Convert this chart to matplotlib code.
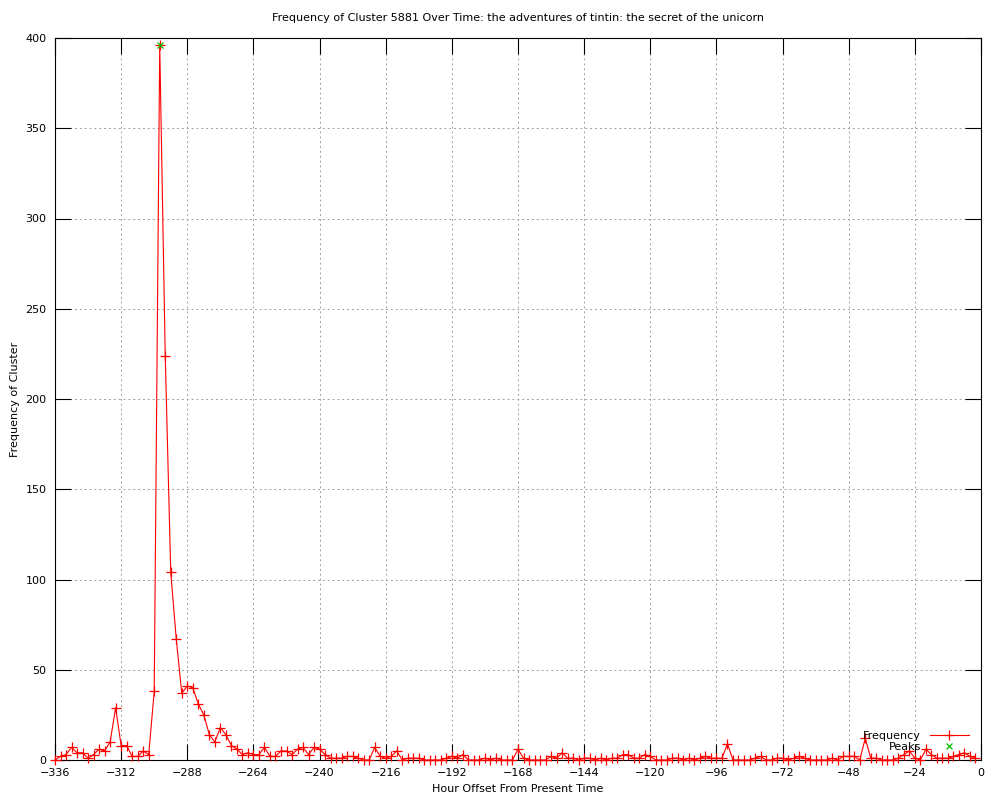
import numpy as np
import matplotlib
matplotlib.use("Agg")
import matplotlib.pyplot as plt

# ================= DATA =================
# one sample every 2 hours, from -336 up to -2
hours = np.arange(-336, 0, 2)

frequency = [
    0, 2, 3, 7, 4, 4, 1, 3, 6, 5, 10, 29,
    8, 8, 2, 2, 5, 3, 38, 396, 224, 104, 67, 37,
    41, 40, 31, 25, 14, 10, 18, 14, 8, 6, 3, 4,
    3, 3, 7, 2, 2, 5, 5, 3, 6, 7, 3, 7,
    6, 3, 1, 1, 1, 2, 2, 1, 0, 0, 7, 2,
    1, 2, 5, 0, 1, 1, 1, 0, 0, 0, 0, 1,
    2, 1, 3, 0, 0, 0, 1, 0, 1, 0, 0, 0,
    6, 1, 0, 0, 0, 0, 2, 1, 4, 1, 1, 0,
    1, 1, 0, 1, 0, 1, 1, 3, 3, 1, 1, 3,
    2, 0, 0, 0, 1, 1, 0, 1, 0, 1, 2, 1,
    1, 1, 9, 0, 0, 0, 0, 1, 2, 0, 0, 1,
    1, 0, 1, 2, 1, 0, 0, 0, 0, 1, 0, 2,
    2, 2, 0, 12, 1, 1, 0, 0, 0, 1, 3, 5,
    1, 0, 6, 3, 1, 1, 1, 2, 3, 4, 2, 1,
]

peak_hours = [-298]
peak_values = [396]

x_ticks = list(range(-336, 1, 24))
y_ticks = list(range(0, 401, 50))

title = "Frequency of Cluster 5881 Over Time: the adventures of tintin: the secret of the unicorn"


# ================= PLOT =================
plt.rcParams['font.family'] = ['DejaVu Sans']

fig = plt.figure(figsize=(10, 8), dpi=100)
ax = fig.add_axes([0.055, 0.05, 0.926, 0.9025])

ax.plot(hours, frequency, color='red', lw=0.8, marker='+', ms=6.5, mew=0.9,
        label='Frequency', clip_on=False, zorder=3)
ax.plot(peak_hours, peak_values, ls='none', color='#00c000', marker='x', ms=5, mew=0.9,
        label='Peaks', clip_on=False, zorder=4)

ax.set_xlim(-336, 0)
ax.set_ylim(0, 400)
ax.set_xticks(x_ticks)
ax.set_yticks(y_ticks)

ax.tick_params(direction='in', length=11.5, width=0.8, top=True, right=True,
               labelsize=8, pad=6)
ax.grid(True, color='#a0a0a0', ls=(0, (2, 3)), lw=0.7)
ax.set_axisbelow(True)
for s in ax.spines.values():
    s.set_linewidth(0.8)

ax.set_title(title, fontsize=8, pad=12)
ax.set_xlabel("Hour Offset From Present Time", fontsize=8, labelpad=4)
ax.set_ylabel("Frequency of Cluster", fontsize=8, labelpad=4)

ax.legend(loc='lower right', bbox_to_anchor=(0.995, 0.0), frameon=False,
          markerfirst=False, fontsize=8, handlelength=3.5,
          labelspacing=0.1, borderaxespad=0.3)

fig.savefig("out.png", dpi=100)
plt.close(fig)
